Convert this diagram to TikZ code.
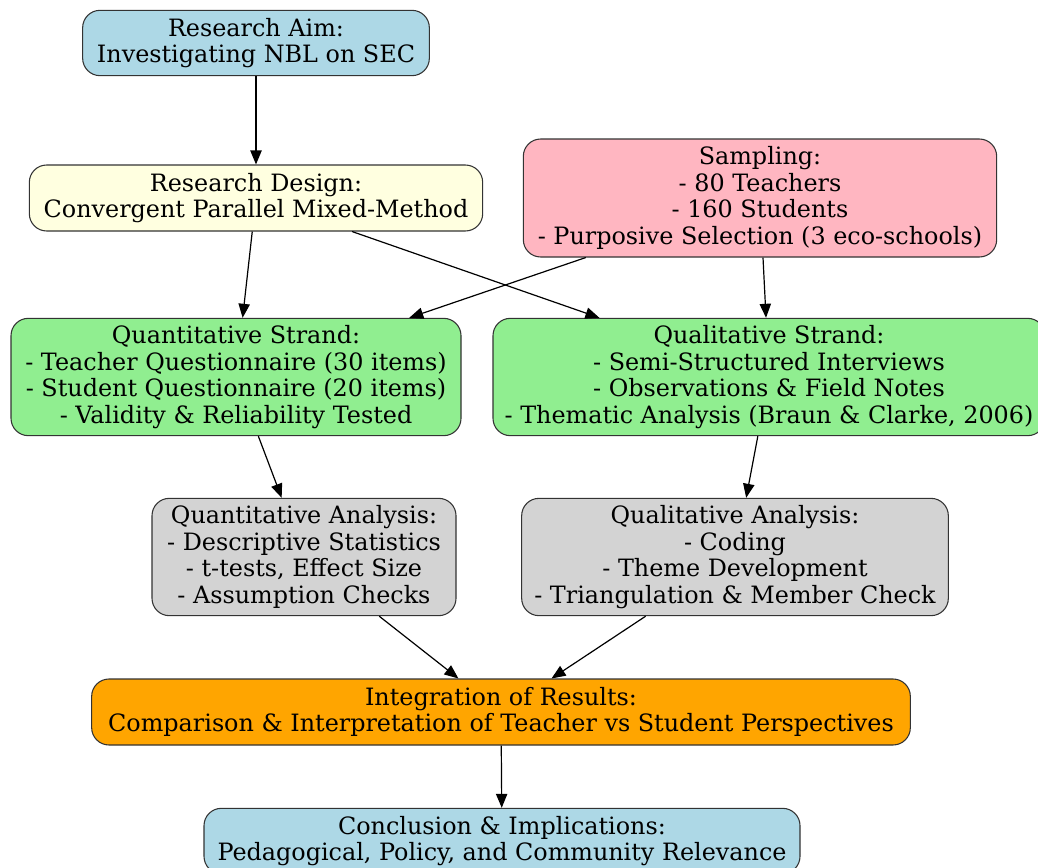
\documentclass[tikz,border=0pt]{standalone}
\usepackage{fontspec}
\setmainfont{DejaVu Serif}
\usetikzlibrary{arrows.meta}
\definecolor{aimblue}{HTML}{ADD8E6}
\definecolor{designyellow}{HTML}{FFFFE0}
\definecolor{samplepink}{HTML}{FFB6C1}
\definecolor{strandgreen}{HTML}{90EE90}
\definecolor{analysisgray}{HTML}{D3D3D3}
\definecolor{integorange}{HTML}{FFA500}
\tikzset{
  stepbox/.style={draw=black!80, line width=0.8pt, rounded corners=13pt, align=center,
    inner sep=0pt, font=\fontsize{17.9pt}{19.8pt}\selectfont},
  flow/.style={-{Triangle[length=10.5pt, width=8.5pt]}, line width=0.9pt}
}
\begin{document}
\begin{tikzpicture}[x=0.75pt, y=-0.75pt]
\useasboundingbox (0,0) rectangle (1038,867);
\node[stepbox, fill=aimblue, minimum width=260pt, minimum height=49pt] (aim) at (256,43)
  {Research Aim:\\Investigating NBL on SEC};
\node[stepbox, fill=designyellow, minimum width=340pt, minimum height=49.5pt] (design) at (256,198)
  {Research Design:\\Convergent Parallel Mixed-Method};
\node[stepbox, fill=samplepink, minimum width=355pt, minimum height=88.5pt] (sampling) at (760,198)
  {Sampling:\\- 80 Teachers\\- 160 Students\\- Purposive Selection (3 eco-schools)};
\node[stepbox, fill=strandgreen, minimum width=337.5pt, minimum height=88pt] (quantstrand) at (236,377)
  {Quantitative Strand:\\- Teacher Questionnaire (30 items)\\- Student Questionnaire (20 items)\\- Validity \& Reliability Tested};
\node[stepbox, fill=strandgreen, minimum width=414pt, minimum height=88pt] (qualstrand) at (769,377)
  {Qualitative Strand:\\- Semi-Structured Interviews\\- Observations \& Field Notes\\- Thematic Analysis (Braun \& Clarke, 2006)};
\node[stepbox, fill=analysisgray, minimum width=228pt, minimum height=88pt] (quantanalysis) at (304,557)
  {Quantitative Analysis:\\- Descriptive Statistics\\- t-tests, Effect Size\\- Assumption Checks};
\node[stepbox, fill=analysisgray, minimum width=320pt, minimum height=88pt] (qualanalysis) at (735,557)
  {Qualitative Analysis:\\- Coding\\- Theme Development\\- Triangulation \& Member Check};
\node[stepbox, fill=integorange, minimum width=614pt, minimum height=49.5pt] (integration) at (501,712)
  {Integration of Results:\\Comparison \& Interpretation of Teacher vs Student Perspectives};
\node[stepbox, fill=aimblue, minimum width=447pt, minimum height=49pt] (conclusion) at (502,841)
  {Conclusion \& Implications:\\Pedagogical, Policy, and Community Relevance};
% edges
\draw[flow] (aim) -- (design);
\draw[flow] (design) -- (quantstrand);
\draw[flow] (design) -- (qualstrand);
\draw[flow] (sampling) -- (quantstrand);
\draw[flow] (sampling) -- (qualstrand);
\draw[flow] (quantstrand) -- (quantanalysis);
\draw[flow] (qualstrand) -- (qualanalysis);
\draw[flow] (quantanalysis) -- (integration);
\draw[flow] (qualanalysis) -- (integration);
\draw[flow] (integration) -- (conclusion);
\end{tikzpicture}
\end{document}
